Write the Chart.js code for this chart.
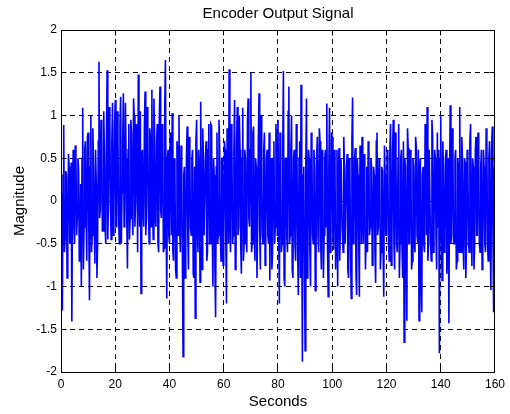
<!DOCTYPE html>
<html>
<head>
<meta charset="utf-8">
<script src="https://cdn.jsdelivr.net/npm/chart.js@4"></script>
<style>
  html, body { margin: 0; padding: 0; background: #fff; }
  #wrap { width: 510px; height: 414px; }
</style>
</head>
<body>
<div id="wrap"><canvas id="c" width="510" height="414"></canvas></div>
<script>
// ---- data ----
// "a" arrays: samples at t = 0, 0.5, 1.0, ... ; "b" arrays: samples at t = 0.25, 0.75, ...
const SAMPLE_STEP = 0.5;
const a_0_20 = [0.1, -1.28, 0.89, -0.45, 0.3, -0.6, 0.4, -0.3, -1.41, 0.6,
  -0.5, 0.55, -0.2, 0.36, -0.6, -1.0, 1.09, -0.3, 0.7, -0.7,
  0.8, -1.16, 1.0, -0.4, 0.4, -0.73, 0.2, -0.5, 1.63, -0.1,
  0.83, -0.35, 0.6, -0.5, 1.53, 0.0, 0.95, -0.45, 1.15, -0.2];
const b_0_20 = [-0.4, 0.3, -0.6, 0.35, -0.9, 0.55, -0.5, 0.45, 0.1, -0.3,
  0.65, -0.4, 0.5, -0.7, 0.2, 0.5, -0.8, 0.6, -0.2, 0.75,
  -0.3, 0.4, -0.6, 0.85, -0.3, 0.6, -0.9, 0.7, -0.2, 0.95,
  -0.35, 1.05, -0.3, 0.7, -0.45, 1.1, -0.1, 0.7, -0.4, 0.85];
const a_20_40 = [1.18, -0.3, 0.7, -0.5, 1.22, 0.1, 1.26, -0.2, 0.5, -0.79,
  0.9, -0.2, 0.8, -0.4, 1.0, 0.0, 0.7, 1.48, -0.3, -1.08,
  0.6, -0.3, 1.28, -0.2, 0.9, -0.5, 0.7, 1.3, -0.45, 0.8,
  -0.3, 0.9, -0.6, 1.34, -0.2, 0.8, -0.55, 1.65, -1.14, 0.6];
const b_20_40 = [-0.3, 1.05, -0.2, 0.9, -0.5, 0.7, -0.3, 1.15, -0.2, 0.6,
  -0.45, 0.95, -0.1, 1.2, -0.3, 0.9, -0.6, 0.1, 1.05, 0.5,
  -0.1, 0.9, -0.4, 1.1, -0.1, 0.85, -0.3, 0.0, 1.2, -0.2,
  0.7, -0.5, 1.0, -0.1, 0.9, -0.6, 1.1, -0.2, 0.5, -0.4];
const a_40_60 = [-0.5, 0.5, 1.03, -0.7, 0.4, -0.9, 0.6, 1.0, -0.6, 0.3,
  -1.82, 0.4, -0.5, 0.87, -0.8, 0.5, -0.4, 0.6, -0.9, -1.37,
  0.95, -0.6, 0.4, 1.16, -0.8, 0.5, -0.4, 0.7, -0.6, 0.9,
  -0.5, 0.88, -1.0, 0.3, -1.36, 0.8, -0.4, 0.6, -0.7, 0.5];
const b_40_60 = [0.8, -0.4, -0.6, 0.5, -0.8, 0.7, -0.4, -0.3, 0.65, -0.6,
  0.3, -0.9, 0.5, -0.4, 0.75, -0.3, 0.5, -0.85, 0.4, 0.7,
  -0.3, 0.6, -0.95, -0.2, 0.85, -0.4, 0.5, -0.7, 0.6, -0.5,
  0.9, -0.3, 0.5, -0.8, 0.4, -0.5, 0.95, -0.4, 0.5, -0.75];
const a_60_80 = [-0.5, 0.6, -1.2, 0.3, 1.54, -0.6, 0.7, -0.4, 1.18, -0.7,
  1.1, -0.3, 0.6, -0.85, 1.09, -0.5, 0.5, -0.6, 1.2, -0.3,
  1.5, -0.5, 0.87, -0.7, 0.4, -0.3, 1.26, -0.8, 0.5, -0.5,
  0.8, -0.4, 0.6, -0.5, -0.93, 0.5, -0.6, 0.7, -0.3, 0.6];
const b_60_80 = [0.7, -0.4, 0.85, -0.5, -0.2, 0.9, -0.5, 0.6, -0.8, 0.7,
  -0.4, 1.0, -0.5, 0.5, -0.7, 0.6, -0.4, 0.95, -0.2, 0.6,
  -0.6, 0.8, -0.4, 0.5, -0.9, 0.7, -0.3, 1.0, -0.4, 0.6,
  -0.75, 0.5, -0.4, 0.8, 0.3, -0.8, 0.5, -0.5, 0.9, -0.4];
const a_80_100 = [0.95, -1.2, 0.4, -0.5, 1.52, -1.0, 0.5, -0.6, 1.34, -0.4,
  1.0, -0.9, 0.6, -0.7, 0.5, -1.1, 0.7, 1.36, -1.88, 0.4,
  -1.75, 1.2, -0.7, 0.5, -1.0, 0.6, -0.5, 0.4, -0.8, 0.75,
  -0.6, 0.7, -0.8, 0.5, -0.4, 0.6, 1.14, -1.12, 1.09, -0.5];
const b_80_100 = [-0.3, 0.8, -0.6, 0.6, -0.9, 0.5, -0.4, 1.05, -0.5, 0.6,
  -0.8, 0.5, -0.5, 0.9, -0.6, 0.5, -0.9, -0.3, 0.3, -0.6,
  0.4, -0.9, 0.6, -0.6, 0.8, -0.4, 0.6, -1.05, 0.5, -0.4,
  0.85, -0.5, 0.6, -0.9, 0.5, -0.3, -0.5, 0.4, -0.6, 0.8];
const a_100_120 = [0.75, -0.57, 0.5, -0.4, -1.0, 0.62, -0.3, 0.5, -0.6, 0.4,
  -0.5, 0.55, -0.9, 0.4, -1.14, 1.21, -0.3, 0.62, -1.1, 0.3,
  -1.12, 0.5, 0.75, -0.5, 0.3, -0.4, -0.6, 0.5, -0.3, 0.4,
  -0.5, 0.3, -0.96, 0.8, -0.3, 0.4, -0.6, 0.35, -1.12, 0.3];
const b_100_120 = [-0.4, 0.6, -0.8, 0.6, 0.3, -0.7, 0.5, -0.4, 0.75, -0.5,
  0.4, -0.8, 0.5, -0.6, 0.7, -0.5, 0.5, -0.85, 0.5, -0.4,
  0.65, -0.5, -0.3, 0.55, -0.8, 0.4, 0.7, -0.4, 0.5, -0.75,
  0.4, -0.6, 0.7, -0.4, 0.5, -0.8, 0.4, -0.6, 0.65, -0.4];
const a_120_140 = [-0.4, 0.5, -0.7, 0.9, -0.5, 0.95, -0.8, 0.4, -0.6, 0.9,
  -0.5, 0.6, -0.9, -1.65, 0.4, -1.4, 0.62, -0.5, 0.5, -0.7,
  0.4, -0.6, 0.62, -0.5, -1.4, 0.5, -1.3, 0.4, -0.6, 0.7,
  1.1, -0.5, 0.6, -0.7, 0.75, -0.4, 0.5, -0.8, -0.3, -1.78];
const b_120_140 = [0.6, -0.5, 0.6, -0.75, 0.6, -0.5, 0.8, -0.5, 0.5, -0.9,
  0.5, -0.6, 0.7, 0.5, -0.6, 0.85, -0.5, 0.6, -0.8, 0.5,
  -0.5, 0.75, -0.4, 0.6, 0.4, -0.9, 0.3, -0.5, 0.9, -0.4,
  -0.7, 0.6, -0.5, 0.95, -0.6, 0.6, -0.4, 0.8, 0.6, 0.5];
const a_140_160 = [0.99, -0.93, 0.4, -0.5, 0.6, -0.6, -1.43, 1.12, -0.4, 0.5,
  -0.5, 0.6, -0.7, 0.4, 1.1, -0.6, 0.5, -0.8, 0.45, -0.5,
  0.5, -0.6, 0.9, -0.76, 0.4, -0.5, 0.75, -0.4, 0.5, -0.6,
  0.6, -0.5, 0.4, -0.6, 0.7, -0.7, 0.7, -1.04, 0.87, -1.3];
const b_140_160 = [-0.4, 0.7, -0.6, 0.5, -0.85, 0.5, 0.3, -0.5, 0.85, -0.5,
  0.5, -0.8, 0.5, -0.6, -0.3, 0.75, -0.5, 0.5, -0.9, 0.6,
  -0.5, 0.7, -0.4, 0.5, -0.8, 0.6, -0.4, 0.8, -0.5, 0.4,
  -0.8, 0.6, -0.5, 0.85, -0.5, 0.5, -0.5, 0.6, -0.4, 0.4];
const lastSample = 0.2; // t = 160

const xTickValues = [0, 20, 40, 60, 80, 100, 120, 140, 160];
const yTickValues = [-2, -1.5, -1, -0.5, 0, 0.5, 1, 1.5, 2];

const aAll = [].concat(a_0_20, a_20_40, a_40_60, a_60_80, a_80_100, a_100_120, a_120_140, a_140_160);
const bAll = [].concat(b_0_20, b_20_40, b_40_60, b_60_80, b_80_100, b_100_120, b_120_140, b_140_160);
const points = [];
aAll.forEach((v, i) => {
  points.push({ x: i * SAMPLE_STEP, y: v });
  points.push({ x: i * SAMPLE_STEP + SAMPLE_STEP / 2, y: bAll[i] });
});
points.push({ x: aAll.length * SAMPLE_STEP, y: lastSample });

const FONT = "'Liberation Sans', Arial, sans-serif";

// inner ticks and box frame (MATLAB style)
const framePlugin = {
  id: 'frame',
  afterDraw(chart) {
    const { ctx, chartArea: a, scales } = chart;
    const L = Math.floor(a.left) + 0.5, R = Math.floor(a.right) + 0.5;
    const T = Math.floor(a.top) + 0.5, B = Math.floor(a.bottom) + 0.5;
    ctx.save();
    ctx.strokeStyle = '#000';
    ctx.lineWidth = 1;
    ctx.setLineDash([]);
    ctx.beginPath();
    const tl = 5;
    xTickValues.forEach(v => {
      const px = Math.floor(scales.x.getPixelForValue(v)) + 0.5;
      ctx.moveTo(px, B); ctx.lineTo(px, B - tl);
      ctx.moveTo(px, T); ctx.lineTo(px, T + tl);
    });
    yTickValues.forEach(v => {
      const py = Math.floor(scales.y.getPixelForValue(v)) + 0.5;
      ctx.moveTo(L, py); ctx.lineTo(L + tl, py);
      ctx.moveTo(R, py); ctx.lineTo(R - tl, py);
    });
    ctx.stroke();
    ctx.strokeRect(L, T, R - L, B - T);
    ctx.restore();
  }
};

new Chart(document.getElementById('c'), {
  type: 'line',
  data: {
    datasets: [{
      data: points,
      borderColor: '#0000ff',
      borderWidth: 1.6,
      borderJoinStyle: 'miter',
      pointRadius: 0,
      tension: 0,
      fill: false
    }]
  },
  options: {
    responsive: false,
    animation: false,
    events: [],
    layout: { padding: { left: 0, right: 15, top: 0, bottom: 0 } },
    plugins: {
      legend: { display: false },
      tooltip: { enabled: false },
      title: {
        display: true,
        text: 'Encoder Output Signal',
        fullSize: false,
        color: '#000',
        font: { family: FONT, size: 15, weight: 'normal' },
        padding: { top: 4.5, bottom: 7.5 }
      }
    },
    scales: {
      x: {
        type: 'linear',
        min: 0, max: 160,
        z: 1,
        afterBuildTicks: (s) => { s.ticks = xTickValues.map(v => ({ value: v })); },
        afterFit: (s) => { s.height = 42; },
        ticks: { color: '#000', font: { family: FONT, size: 12 }, padding: 5, maxRotation: 0,
                 callback: (v) => String(v) },
        grid: { color: '#000', lineWidth: 1, drawTicks: false, tickLength: 0 },
        border: { display: false, dash: [5, 4] },
        title: {
          display: true, text: 'Seconds', color: '#000',
          font: { family: FONT, size: 15 }, padding: { top: 0, bottom: 3 }
        }
      },
      y: {
        type: 'linear',
        min: -2, max: 2,
        z: 1,
        afterBuildTicks: (s) => { s.ticks = yTickValues.map(v => ({ value: v })); },
        afterFit: (s) => { s.width = 61; },
        ticks: { color: '#000', font: { family: FONT, size: 12 }, padding: 4,
                 callback: (v) => String(v) },
        grid: { color: '#000', lineWidth: 1, drawTicks: false, tickLength: 0 },
        border: { display: false, dash: [5, 4] },
        title: {
          display: true, text: 'Magnitude', color: '#000',
          font: { family: FONT, size: 15 }, padding: { top: 10.5, bottom: 0 }
        }
      }
    }
  },
  plugins: [framePlugin]
});
</script>
</body>
</html>
